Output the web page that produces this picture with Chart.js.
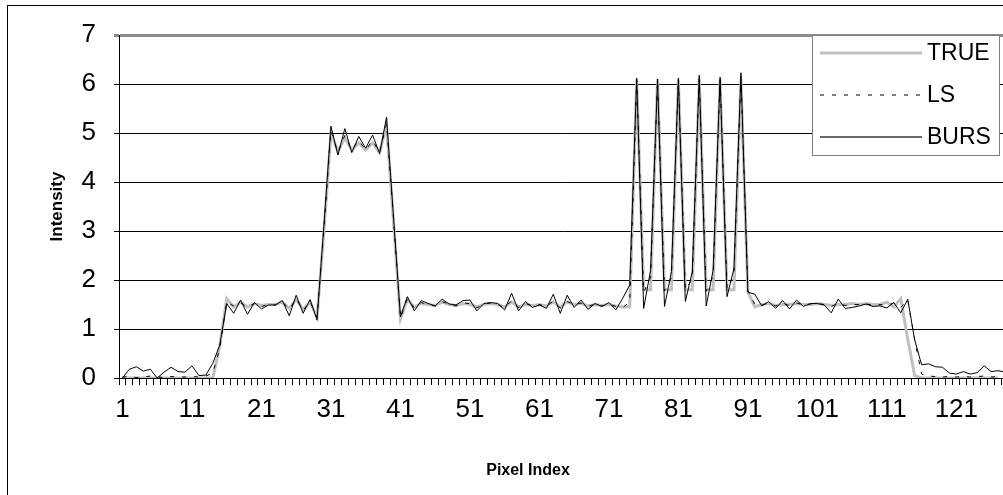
<!DOCTYPE html>
<html>
<head>
<meta charset="utf-8">
<script src="https://cdn.jsdelivr.net/npm/chart.js@4/dist/chart.umd.min.js"></script>
<style>
  html, body { margin: 0; padding: 0; background: #fff; overflow: hidden; }
  #wrap { position: relative; width: 1014px; height: 495px; }
</style>
</head>
<body>
<div id="wrap"><canvas id="chart" width="1014" height="495"></canvas></div>
<script>
// pixel index 1..128
const pixelIndex = Array.from({ length: 128 }, (_, i) => String(i + 1));

const trueVals = [
  0, 0, 0, 0, 0, 0, 0, 0, 0, 0, 0, 0, 0, 0, 0.65, 1.62,
  1.45, 1.55, 1.45, 1.52, 1.48, 1.50, 1.50, 1.55, 1.42, 1.60, 1.40, 1.55, 1.25,
  3.0,
  5.0, 4.62, 4.9, 4.65, 4.8, 4.65, 4.8, 4.6, 5.15,
  3.2, 1.2,
  1.6, 1.45, 1.52, 1.5, 1.48, 1.55, 1.5, 1.48, 1.52, 1.5, 1.45, 1.5, 1.52, 1.5, 1.45, 1.55,
  1.45, 1.5, 1.48, 1.5, 1.47, 1.55, 1.45, 1.55, 1.5, 1.52, 1.47, 1.5, 1.48, 1.5, 1.47, 1.45, 1.45,
  6.1, 1.8, 1.8, 6.1, 1.8, 1.8, 6.1, 1.8, 1.8, 6.1, 1.8, 1.8, 6.1, 1.8, 1.8, 6.1,
  1.75, 1.45,
  1.5, 1.52, 1.48, 1.5, 1.5, 1.52, 1.5, 1.5, 1.52, 1.5, 1.48, 1.5, 1.5, 1.52, 1.5, 1.52,
  1.5, 1.5, 1.55, 1.45, 1.62,
  0.8, 0.05,
  0, 0, 0, 0, 0, 0, 0, 0, 0, 0, 0, 0
];

const lsVals = [
  0.02, 0.03, 0.01, 0.02, 0.04, 0.02, 0.01, 0.03, 0.02, 0.02, 0.03, 0.02, 0.04, 0.1, 0.6, 1.55,
  1.47, 1.53, 1.44, 1.53, 1.46, 1.5, 1.49, 1.56, 1.4, 1.62, 1.38, 1.56, 1.24,
  3.05,
  5.05, 4.6, 4.95, 4.65, 4.85, 4.65, 4.85, 4.6, 5.2,
  3.25, 1.22,
  1.62, 1.43, 1.54, 1.5, 1.47, 1.56, 1.5, 1.47, 1.53, 1.52, 1.43, 1.51, 1.53, 1.5, 1.43, 1.58,
  1.44, 1.52, 1.47, 1.5, 1.46, 1.57, 1.43, 1.56, 1.5, 1.53, 1.46, 1.51, 1.47, 1.51, 1.46, 1.44, 1.55,
  6.08, 1.75, 2.05, 6.07, 1.78, 2.05, 6.1, 1.8, 2.02, 6.12, 1.77, 2.08, 6.1, 1.82, 2.1, 6.15,
  1.78, 1.5,
  1.49, 1.53, 1.47, 1.52, 1.48, 1.53, 1.49, 1.51, 1.52, 1.5, 1.46, 1.52, 1.48, 1.5, 1.5, 1.51,
  1.49, 1.5, 1.48, 1.53, 1.44, 1.6,
  0.78, 0.08,
  0.04, 0.03, 0.02, 0.03, 0.02, 0.03, 0.02, 0.03, 0.04, 0.02, 0.03, 0.02
];

const bursVals = [
  0.00, 0.18, 0.23, 0.14, 0.18, 0.00, 0.12, 0.22, 0.13, 0.12, 0.25, 0.05, 0.06, 0.30, 0.67, 1.52,
  1.32, 1.59, 1.30, 1.54, 1.41, 1.49, 1.49, 1.58, 1.27, 1.69, 1.32, 1.60, 1.18,
  3.15,
  5.14, 4.55, 5.09, 4.60, 4.93, 4.69, 4.96, 4.58, 5.32,
  3.30, 1.25,
  1.66, 1.37, 1.58, 1.52, 1.47, 1.61, 1.51, 1.49, 1.58, 1.59, 1.37, 1.52, 1.54, 1.52, 1.39, 1.73,
  1.37, 1.56, 1.44, 1.49, 1.42, 1.71, 1.32, 1.69, 1.44, 1.59, 1.40, 1.52, 1.46, 1.54, 1.39, 1.63, 1.90,
  6.12, 1.42, 2.20, 6.10, 1.46, 2.17, 6.12, 1.56, 2.17, 6.18, 1.47, 2.20, 6.14, 1.66, 2.24, 6.23,
  1.75, 1.71,
  1.47, 1.56, 1.42, 1.58, 1.41, 1.59, 1.46, 1.52, 1.52, 1.49, 1.33, 1.61, 1.42, 1.44, 1.47, 1.51,
  1.46, 1.47, 1.43, 1.54, 1.33, 1.61,
  0.78, 0.27,
  0.29, 0.23, 0.22, 0.10, 0.08, 0.13, 0.08, 0.11, 0.25, 0.13, 0.15, 0.12
];

const yTicks = [0, 1, 2, 3, 4, 5, 6, 7];
const seriesNames = ['TRUE', 'LS', 'BURS'];

const FONT = '"Liberation Sans", Arial, sans-serif';

// legend box, axis titles and the outer frame, placed like the original
const overlay = {
  id: 'overlay',
  afterDraw(chart) {
    const ctx = chart.ctx;
    const area = chart.chartArea;
    ctx.save();

    ctx.strokeStyle = '#000';
    ctx.lineWidth = 1;
    ctx.strokeRect(7.5, 5.5, 1200, 800);

    ctx.fillStyle = '#000';
    ctx.font = 'bold 16px ' + FONT;
    ctx.textAlign = 'center';
    ctx.textBaseline = 'middle';
    ctx.fillText('Pixel Index', 528, 471);

    ctx.font = 'bold 17px ' + FONT;
    ctx.translate(57, (area.top + area.bottom) / 2);
    ctx.rotate(-Math.PI / 2);
    ctx.fillText('Intensity', 0, 0);
    ctx.restore();

    // legend
    ctx.save();
    const bx = 812.5, by = 35.5, bw = 187, bh = 120;
    ctx.fillStyle = '#fff';
    ctx.fillRect(bx, by, bw, bh);
    ctx.strokeStyle = '#808080';
    ctx.lineWidth = 1;
    ctx.strokeRect(bx, by, bw, bh);
    const rows = [53, 95, 137];
    chart.data.datasets.forEach((ds, i) => {
      const y = rows[i];
      ctx.beginPath();
      ctx.strokeStyle = ds.legendColor;
      ctx.lineWidth = ds.legendWidth;
      ctx.setLineDash(ds.borderDash || []);
      ctx.moveTo(820, y);
      ctx.lineTo(922, y);
      ctx.stroke();
      ctx.setLineDash([]);
      ctx.fillStyle = '#000';
      ctx.font = '23px ' + FONT;
      ctx.textAlign = 'left';
      ctx.textBaseline = 'middle';
      ctx.fillText(ds.label, 927, y + 1);
    });
    ctx.restore();
  }
};

new Chart(document.getElementById('chart'), {
  type: 'line',
  data: {
    labels: pixelIndex,
    datasets: [
      { label: seriesNames[0], data: trueVals, borderColor: '#c0c0c0', legendColor: '#c0c0c0',
        borderWidth: 3, legendWidth: 3, pointRadius: 0, tension: 0, order: 3 },
      { label: seriesNames[1], data: lsVals, borderColor: '#000', legendColor: '#000',
        borderWidth: 1, legendWidth: 1, borderDash: [4, 8], pointRadius: 0, tension: 0, order: 2 },
      { label: seriesNames[2], data: bursVals, borderColor: '#000', legendColor: '#6a6a6a',
        borderWidth: 1, legendWidth: 2, pointRadius: 0, tension: 0, order: 1 }
    ]
  },
  options: {
    responsive: false,
    animation: false,
    events: [],
    layout: { padding: { top: 35, left: 0, right: 3, bottom: 0 } },
    plugins: {
      legend: { display: false },
      tooltip: { enabled: false }
    },
    scales: {
      x: {
        type: 'category',
        offset: true,
        afterFit: s => { s.height = 117; },
        border: { color: '#000', width: 1 },
        grid: {
          offset: true,
          drawOnChartArea: false,
          drawTicks: true,
          tickLength: 7,
          color: '#000'
        },
        ticks: {
          autoSkip: false,
          maxRotation: 0,
          minRotation: 0,
          padding: 9,
          color: '#000',
          font: { family: FONT, size: 26 },
          callback: (v, i) => (i % 10 === 0 ? pixelIndex[i] : '')
        }
      },
      y: {
        min: yTicks[0],
        max: yTicks[yTicks.length - 1],
        afterFit: s => { s.width = 119; },
        border: { color: '#000', width: 1 },
        grid: {
          tickLength: 5,
          color: c => (c.tick.value === 7 ? '#8a8a8a' : '#000'),
          lineWidth: c => (c.tick.value === 7 ? 3 : 1)
        },
        ticks: {
          stepSize: 1,
          padding: 18,
          color: '#000',
          font: { family: FONT, size: 26 }
        }
      }
    }
  },
  plugins: [overlay]
});
</script>
</body>
</html>
